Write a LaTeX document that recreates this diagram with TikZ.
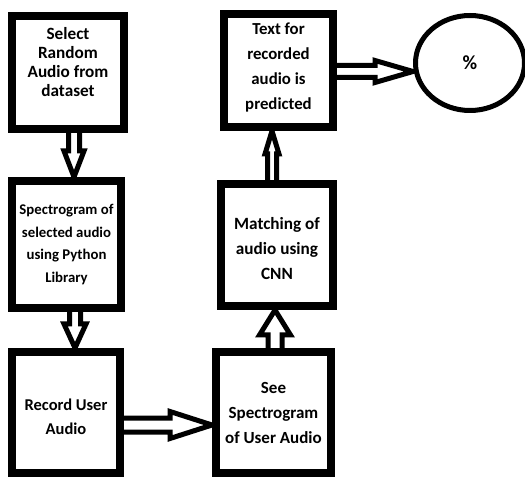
\documentclass[tikz,border=0pt]{standalone}
\usepackage{fontspec}
\setmainfont{Carlito}
\usetikzlibrary{calc,backgrounds,shapes.geometric}
\newcommand{\shiftlines}[2]{\raisebox{#1}[\height][\depth]{\begin{tabular}{@{}c@{}}#2\end{tabular}}}
\begin{document}
\begin{tikzpicture}[x=1pt,y=-1pt,
  box/.style={draw, line width=8pt, fill=white, align=center, inner sep=0pt},
  hol/.style n args={3}{line width=5pt, draw=black, fill=white, line join=miter,
    to path={let \p1=($(\tikztotarget)!#3!(\tikztostart)$) in
      ($(\tikztostart)!#1!90:(\tikztotarget)$) -- ($(\p1)!#1!90:(\tikztotarget)$) --
      ($(\p1)!#2!90:(\tikztotarget)$) -- (\tikztotarget) --
      ($(\p1)!#2!-90:(\tikztotarget)$) -- ($(\p1)!#1!-90:(\tikztotarget)$) --
      ($(\tikztostart)!#1!-90:(\tikztotarget)$) -- cycle}}]
\useasboundingbox (0,0) rectangle (525,478);

\node[box, minimum width=112pt, minimum height=113pt, font=\bfseries\fontsize{17.2}{19}\selectfont] (sel) at (68,72.5) {\shiftlines{8pt}{Select\\Random\\Audio from\\dataset}};
\node[box, minimum width=109pt, minimum height=127pt, font=\bfseries\fontsize{14.8}{22.5}\selectfont] (spec) at (66.5,244.5) {Spectrogram of\\selected audio\\using Python\\Library};
\node[box, minimum width=108pt, minimum height=121pt, font=\bfseries\fontsize{16.5}{24}\selectfont] (rec) at (66,412.5) {\shiftlines{-5pt}{Record User\\Audio}};
\node[box, minimum width=115pt, minimum height=121pt, font=\bfseries\fontsize{17}{25}\selectfont] (see) at (273.5,412.5) {See\\Spectrogram\\of User Audio};
\node[box, minimum width=112pt, minimum height=122pt, font=\bfseries\fontsize{17.2}{25}\selectfont] (match) at (277,245) {\shiftlines{-5pt}{Matching of\\audio using\\CNN}};
\node[box, minimum width=109pt, minimum height=113pt, font=\bfseries\fontsize{16.8}{25}\selectfont] (pred) at (278.5,70.5) {\shiftlines{3.5pt}{Text for\\recorded\\audio is\\predicted}};
\node[draw, ellipse, line width=5pt, fill=white, minimum width=109pt, minimum height=95pt, inner sep=0pt, font=\bfseries\fontsize{20}{24}\selectfont] (pct) at (470,63) {\%};

\coordinate (c1) at (74,0);
\coordinate (c2) at (75,0);
\coordinate (c4) at (275,0);
\coordinate (c5) at (272,0);
\coordinate (r3) at (0,425);
\coordinate (r6) at (0,71.5);

\begin{scope}[on background layer]
\fill[white] (0,0) rectangle (525,478);
\path[hol={5.5pt}{10pt}{26pt}] ($(sel.south -| c1)+(0,-4)$) to (spec.north -| c1);
\path[hol={5.5pt}{11pt}{24pt}] ($(spec.south -| c2)+(0,-4)$) to (rec.north -| c2);
\path[hol={7pt}{13.5pt}{42pt}] ($(rec.east |- r3)+(-4,0)$) to (see.west |- r3);
\path[hol={7pt}{15.5pt}{25pt}] ($(see.north -| c4)+(0,4)$) to (match.south -| c4);
\path[hol={4.5pt}{7pt}{23pt}] ($(match.north -| c5)+(0,4)$) to (pred.south -| c5);
\path[hol={6pt}{11pt}{38pt}] ($(pred.east |- r6)+(-4,0)$) to (pct.west |- r6);
\end{scope}
\end{tikzpicture}
\end{document}
